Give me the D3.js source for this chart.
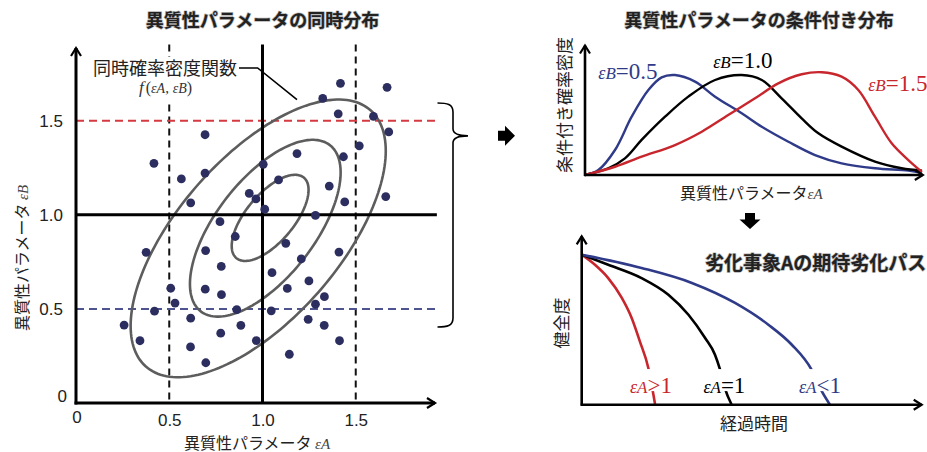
<!DOCTYPE html>
<html>
<head>
<meta charset="utf-8">
<script src="https://cdn.jsdelivr.net/npm/d3@7"></script>
<style>
  html, body { margin: 0; padding: 0; background: #fff; }
  svg { display: block; }
  text { font-family: "Noto Sans CJK JP", "Noto Sans", sans-serif; }
  .ttl { paint-order: stroke; stroke: #b8b8b8; stroke-width: 1.4px; stroke-linejoin: round; }
</style>
</head>
<body>
<svg id="fig" width="927" height="452"></svg>
<script>
// ---------- joint distribution: sampled (εA, εB) pairs ----------
const jointEpsA = [0.692, 0.418, 0.565, 0.692, 0.615, 0.929, 0.965, 0.772, 1.418, 1.668,
                   1.323, 1.406, 1.595, 1.677, 1.519, 1.185, 1.434, 1.004, 1.086, 1.358,
                   1.661, 1.441, 1.012, 1.284, 0.854, 0.376, 0.695, 0.779, 0.508, 0.693,
                   0.780, 0.531, 0.421, 0.862, 0.615, 0.258, 0.884, 0.343, 0.776, 0.967,
                   0.614, 0.696, 1.125, 1.410, 1.208, 1.051, 1.249, 1.133, 1.332, 1.284,
                   1.047, 1.245, 1.331, 1.413, 1.144];
const jointEpsB = [1.426, 1.274, 1.191, 1.222, 1.064, 1.114, 1.085, 0.964, 1.699, 1.678,
                   1.619, 1.537, 1.524, 1.441, 1.367, 1.326, 1.309, 1.269, 1.186, 1.153,
                   1.097, 1.069, 1.030, 0.997, 0.885, 0.801, 0.810, 0.726, 0.610, 0.605,
                   0.576, 0.531, 0.488, 0.496, 0.451, 0.414, 0.413, 0.331, 0.371, 0.332,
                   0.298, 0.214, 0.849, 0.802, 0.766, 0.693, 0.649, 0.609, 0.565, 0.525,
                   0.490, 0.445, 0.413, 0.331, 0.259];

// density contours (outer, middle, inner): centre, half-extents, correlation
const contourCx  = [0.977, 1.015, 1.041];
const contourCy  = [0.875, 0.929, 0.984];
const contourRx  = [0.684, 0.404, 0.206];
const contourRy  = [0.738, 0.470, 0.229];
const contourRho = [0.63, 0.63, 0.65];

// reference levels
const splitEpsA = [0.5, 1.0, 1.5];
const splitEpsB = [0.5, 1.0, 1.5];
const jointTicks = [0.5, 1.0, 1.5];
const jointTickLabels = ["0.5", "1.0", "1.5"];

// ---------- conditional densities of εA given εB ----------
const condLabels = ["=0.5", "=1.0", "=1.5"];
const condLow  = [[0,0],[0.079,0.039],[0.178,0.197],[0.277,0.459],[0.376,0.669],[0.455,0.769],
                  [0.534,0.787],[0.653,0.735],[0.772,0.617],[0.930,0.486],[1.049,0.380],
                  [1.207,0.262],[1.365,0.157],[1.523,0.092],[1.721,0.053],[1.919,0.034],[2.0,0.016]];
const condMid  = [[0,0],[0.138,0.053],[0.237,0.131],[0.336,0.276],[0.475,0.459],[0.613,0.617],
                  [0.772,0.748],[0.930,0.787],[1.049,0.748],[1.167,0.604],[1.286,0.446],
                  [1.385,0.328],[1.523,0.223],[1.721,0.105],[1.879,0.053],[2.0,0.034]];
const condHigh = [[0,0],[0.178,0.065],[0.336,0.144],[0.534,0.236],[0.693,0.341],[0.850,0.472],
                  [1.009,0.604],[1.147,0.722],[1.286,0.793],[1.405,0.809],[1.523,0.774],
                  [1.622,0.669],[1.721,0.459],[1.820,0.250],[1.919,0.118],[2.0,0.024]];

// ---------- expected deterioration paths (time, health) ----------
const pathLabels = [">1", "=1", "<1"];
const pathFast = [[0,0.891],[0.039,0.831],[0.078,0.752],[0.118,0.634],[0.147,0.515],
                  [0.171,0.376],[0.196,0.218],[0.211,0.059],[0.216,0]];
const pathUnit = [[0,0.891],[0.078,0.831],[0.176,0.752],[0.255,0.653],[0.314,0.534],
                  [0.363,0.396],[0.392,0.297],[0.407,0.208],[0.421,0.099],[0.441,0]];
const pathSlow = [[0,0.891],[0.176,0.812],[0.324,0.723],[0.451,0.604],[0.549,0.475],
                  [0.618,0.356],[0.676,0.208],[0.706,0.080],[0.730,0]];

// ---------- styling ----------
const NAVY = "#2b2e5e", BLUE = "#2f3b88", RED = "#c8262d", GREY = "#5d5d5d";
const SERIF = "'Liberation Serif', 'DejaVu Serif', serif";
const SANS = "'Liberation Sans', Arial, sans-serif";
const svg = d3.select("#fig");

function arrowHead(g, x, y, dir) {
  const d = dir === "up"
    ? `M${x - 5},${y + 8}L${x},${y}L${x + 5},${y + 8}`
    : `M${x - 8},${y - 5}L${x},${y}L${x - 8},${y + 5}`;
  g.append("path").attr("d", d).attr("fill", "none").attr("stroke", "#000")
    .attr("stroke-width", 2.2).attr("stroke-linejoin", "miter");
}

// ε label: italic ε + letter, then relation in upright serif
function epsLabel(g, x, y, sub, rest, color, big) {
  const t = g.append("text").attr("x", x).attr("y", y).attr("fill", color)
    .style("font-family", SERIF);
  t.append("tspan").text("ε").style("font-style", "italic").style("font-size", "18px");
  t.append("tspan").text(sub).style("font-style", "italic").style("font-size", "17px");
  t.append("tspan").text(rest).style("font-size", big + "px");
  return t;
}

// =====================================================================
// Left: joint distribution
// =====================================================================
const xJ = d3.scaleLinear().domain([0, 1.925]).range([76, 435]);
const yJ = d3.scaleLinear().domain([0, 1.887]).range([403, 48]);
const gJ = svg.append("g");
const topJ = yJ(1.905), rightJ = xJ(1.935);

// dashed reference lines
gJ.selectAll(".vdash").data(splitEpsA.filter(v => v !== 1.0)).enter().append("line")
  .attr("x1", d => xJ(d)).attr("x2", d => xJ(d)).attr("y1", topJ).attr("y2", yJ(0))
  .attr("stroke", "#111").attr("stroke-width", 2).attr("stroke-dasharray", "7,5");
gJ.selectAll(".hdash").data(splitEpsB.filter(v => v !== 1.0)).enter().append("line")
  .attr("x1", xJ(0)).attr("x2", rightJ).attr("y1", d => yJ(d)).attr("y2", d => yJ(d))
  .attr("stroke", d => d > 1 ? "#d43a40" : "#4d5490").attr("stroke-width", 2)
  .attr("stroke-dasharray", "8,5");

// density contours
const ellipseLine = d3.line().x(d => xJ(d[0])).y(d => yJ(d[1])).curve(d3.curveLinearClosed);
contourCx.forEach((cx, i) => {
  const pts = d3.range(0, 2 * Math.PI, Math.PI / 90).map(t => [
    cx + contourRx[i] * Math.cos(t),
    contourCy[i] + contourRy[i] * (contourRho[i] * Math.cos(t) +
      Math.sqrt(1 - contourRho[i] ** 2) * Math.sin(t))
  ]);
  gJ.append("path").attr("d", ellipseLine(pts)).attr("fill", "none")
    .attr("stroke", GREY).attr("stroke-width", 2.6);
});

// solid εA = 1 and εB = 1 lines
gJ.append("line").attr("x1", xJ(1)).attr("x2", xJ(1)).attr("y1", topJ).attr("y2", yJ(0))
  .attr("stroke", "#000").attr("stroke-width", 3);
gJ.append("line").attr("x1", xJ(0)).attr("x2", rightJ).attr("y1", yJ(1)).attr("y2", yJ(1))
  .attr("stroke", "#000").attr("stroke-width", 3);

// axes
gJ.append("line").attr("x1", xJ(0)).attr("x2", xJ(0)).attr("y1", yJ(0) + 1.5).attr("y2", yJ(1.887))
  .attr("stroke", "#000").attr("stroke-width", 3);
gJ.append("line").attr("x1", xJ(0) - 1.5).attr("x2", xJ(1.925)).attr("y1", yJ(0)).attr("y2", yJ(0))
  .attr("stroke", "#000").attr("stroke-width", 3);
arrowHead(gJ, xJ(0), yJ(1.887), "up");
arrowHead(gJ, xJ(1.925), yJ(0), "right");

// tick labels
const axB = gJ.append("g").attr("transform", `translate(0,${yJ(0)})`)
  .call(d3.axisBottom(xJ).tickValues(jointTicks).tickFormat((d, i) => jointTickLabels[i])
    .tickSize(0).tickPadding(11));
const axL = gJ.append("g").attr("transform", `translate(${xJ(0)},0)`)
  .call(d3.axisLeft(yJ).tickValues(jointTicks).tickFormat((d, i) => jointTickLabels[i])
    .tickSize(0).tickPadding(13));
[axB, axL].forEach(a => {
  a.select(".domain").remove();
  a.selectAll("text").style("font-family", SANS).style("font-size", "17px").attr("fill", "#222");
});
gJ.append("text").attr("x", xJ(0) + 1).attr("y", yJ(0) + 20).attr("text-anchor", "middle")
  .style("font-family", SANS).style("font-size", "17px").attr("fill", "#222").text("0");
gJ.append("text").attr("x", xJ(0) - 9).attr("y", yJ(0) - 1.5).attr("text-anchor", "end")
  .style("font-family", SANS).style("font-size", "17px").attr("fill", "#222").text("0");

// sample points
gJ.selectAll(".pt").data(jointEpsA).enter().append("circle")
  .attr("cx", d => xJ(d)).attr("cy", (d, i) => yJ(jointEpsB[i])).attr("r", 4.4)
  .attr("fill", NAVY);

// axis titles
const xl = gJ.append("text").attr("x", 257).attr("y", 448.5).attr("text-anchor", "middle")
  .attr("fill", "#222").style("font-size", "16px");
xl.append("tspan").text("異質性パラメータ ");
xl.append("tspan").text("εA").style("font-family", SERIF).style("font-style", "italic")
  .style("font-size", "15px").attr("fill", "#444");
const yl = gJ.append("text").attr("transform", "translate(28,258) rotate(-90)")
  .attr("text-anchor", "middle").attr("fill", "#222").style("font-size", "16px");
yl.append("tspan").text("異質性パラメータ ");
yl.append("tspan").text("εB").style("font-family", SERIF).style("font-style", "italic")
  .style("font-size", "15px").attr("fill", "#444");

// title
gJ.append("text").attr("class", "ttl").attr("x", 262.5).attr("y", 27).attr("text-anchor", "middle")
  .style("font-size", "18px").style("font-weight", "bold").attr("fill", "#222")
  .text("異質性パラメータの同時分布");

// joint density annotation (on a white card) with leader line
const ann = gJ.append("g");
const annRect = ann.append("rect").attr("fill", "#fff");
ann.append("text").attr("x", 93).attr("y", 74.5).style("font-size", "18px").attr("fill", "#222")
  .text("同時確率密度関数");
const fx = ann.append("text").attr("x", 139).attr("y", 93).attr("fill", "#333")
  .style("font-family", SERIF);
fx.append("tspan").text("f").style("font-style", "italic").style("font-size", "17px");
fx.append("tspan").text("(").style("font-size", "16px").attr("dx", 2);
fx.append("tspan").text("εA").style("font-style", "italic").style("font-size", "14px");
fx.append("tspan").text(", ").style("font-size", "15px");
fx.append("tspan").text("εB").style("font-style", "italic").style("font-size", "14px");
fx.append("tspan").text(")").style("font-size", "16px");
annRect.attr("x", 91).attr("y", 57).attr("width", 148).attr("height", 45);
gJ.append("path")
  .attr("d", `M239,${68}L${xJ(0.974)},68L${xJ(1.185)},${yJ(1.612)}`)
  .attr("fill", "none").attr("stroke", "#000").attr("stroke-width", 1.6);

// brace gathering the εB levels
const bx = 453, bt = yJ(1.595), bb = yJ(0.404), bm = yJ(1.42);
svg.append("path")
  .attr("d", `M437.5,${bt}C447,${bt} ${bx},${bt + 1} ${bx},${bt + 9}L${bx},${bm - 7}` +
             `C${bx},${bm - 2} ${bx + 5},${bm} ${bx + 15},${bm}` +
             `M${bx + 15},${bm}C${bx + 5},${bm} ${bx},${bm + 2} ${bx},${bm + 7}` +
             `L${bx},${bb - 9}C${bx},${bb - 1} 447,${bb} 437.5,${bb}`)
  .attr("fill", "none").attr("stroke", "#000").attr("stroke-width", 1.6);

// block arrows
svg.append("path").attr("d", `M498,${bm - 5}L505,${bm - 5}L505,${bm - 10}L515,${bm}L505,${bm + 10}L505,${bm + 5}L498,${bm + 5}Z`)
  .attr("fill", "#000");
svg.append("path").attr("d", "M745,213L755,213L755,219.5L760.5,219.5L750,229L739.5,219.5L745,219.5Z")
  .attr("fill", "#000");

// =====================================================================
// Top right: conditional densities
// =====================================================================
const xC = d3.scaleLinear().domain([0, 2]).range([585, 922]);
const yC = d3.scaleLinear().domain([0, 1]).range([175, 48]);
const gC = svg.append("g");
const condLine = d3.line().x(d => xC(d[0])).y(d => yC(d[1])).curve(d3.curveCatmullRom.alpha(0.5));
[[condLow, BLUE], [condMid, "#000"], [condHigh, RED]].forEach(([s, c]) => {
  gC.append("path").attr("d", condLine(s)).attr("fill", "none").attr("stroke", c)
    .attr("stroke-width", 2.4);
});
gC.append("line").attr("x1", xC(0)).attr("x2", xC(0)).attr("y1", yC(0) + 1).attr("y2", yC(1.02))
  .attr("stroke", "#000").attr("stroke-width", 2.6);
gC.append("line").attr("x1", xC(0) - 1).attr("x2", xC(2.005)).attr("y1", yC(0)).attr("y2", yC(0))
  .attr("stroke", "#000").attr("stroke-width", 2.6);
arrowHead(gC, xC(0), yC(1.02), "up");
arrowHead(gC, xC(2.005), yC(0), "right");

epsLabel(gC, xC(0.079), yC(0.754), "B", condLabels[0], BLUE, 23);
epsLabel(gC, xC(0.761), yC(0.840), "B", condLabels[1], "#000", 23);
epsLabel(gC, xC(1.681), yC(0.664), "B", condLabels[2], RED, 23);

gC.append("text").attr("class", "ttl").attr("x", 759).attr("y", 27).attr("text-anchor", "middle")
  .style("font-size", "18px").style("font-weight", "bold").attr("fill", "#222")
  .text("異質性パラメータの条件付き分布");
const cxl = gC.append("text").attr("x", 680).attr("y", 199).attr("fill", "#222")
  .style("font-size", "16px");
cxl.append("tspan").text("異質性パラメータ");
cxl.append("tspan").text("εA").style("font-family", SERIF).style("font-style", "italic")
  .style("font-size", "15px").attr("fill", "#444");
gC.append("text").attr("transform", "translate(570.5,105) rotate(-90)").attr("text-anchor", "middle")
  .style("font-size", "17px").attr("fill", "#222").text("条件付き確率密度");

// =====================================================================
// Bottom right: expected deterioration paths
// =====================================================================
const xD = d3.scaleLinear().domain([0, 1]).range([581.7, 921.7]);
const yD = d3.scaleLinear().domain([0, 1]).range([404.7, 236.3]);
const gD = svg.append("g");
const pathLine = d3.line().x(d => xD(d[0])).y(d => yD(d[1])).curve(d3.curveMonotoneX);
[[pathFast, RED], [pathUnit, "#000"], [pathSlow, BLUE]].forEach(([s, c]) => {
  gD.append("path").attr("d", pathLine(s)).attr("fill", "none").attr("stroke", c)
    .attr("stroke-width", 2.6);
});
gD.append("line").attr("x1", xD(0)).attr("x2", xD(0)).attr("y1", yD(0) + 1).attr("y2", yD(1))
  .attr("stroke", "#000").attr("stroke-width", 2.6);
gD.append("line").attr("x1", xD(0) - 1).attr("x2", xD(1)).attr("y1", yD(0)).attr("y2", yD(0))
  .attr("stroke", "#000").attr("stroke-width", 2.6);
arrowHead(gD, xD(0), yD(1), "up");
arrowHead(gD, xD(1), yD(0), "right");

// path labels sit on a white band that interrupts the curves
const labBase = yD(0.069);
[[0.142, pathLabels[0], RED], [0.358, pathLabels[1], "#000"], [0.639, pathLabels[2], BLUE]]
  .forEach(([lx, txt, c]) => {
    const lg = gD.append("g");
    const t = epsLabel(lg, xD(lx), labBase, "A", txt, c, 23);
    const bb2 = t.node().getBBox();
    lg.insert("rect", "text").attr("x", bb2.x - 1).attr("width", bb2.width + 2)
      .attr("y", labBase - 24).attr("height", 22).attr("fill", "#fff");
  });

gD.append("text").attr("class", "ttl").attr("x", 705).attr("y", 270)
  .style("font-size", "19px").style("font-weight", "bold").attr("fill", "#222")
  .text("劣化事象Aの期待劣化パス");
gD.append("text").attr("x", 754).attr("y", 429.5).attr("text-anchor", "middle")
  .style("font-size", "17px").attr("fill", "#222").text("経過時間");
gD.append("text").attr("transform", "translate(568,323) rotate(-90)").attr("text-anchor", "middle")
  .style("font-size", "17px").attr("fill", "#222").text("健全度");
</script>
</body>
</html>
